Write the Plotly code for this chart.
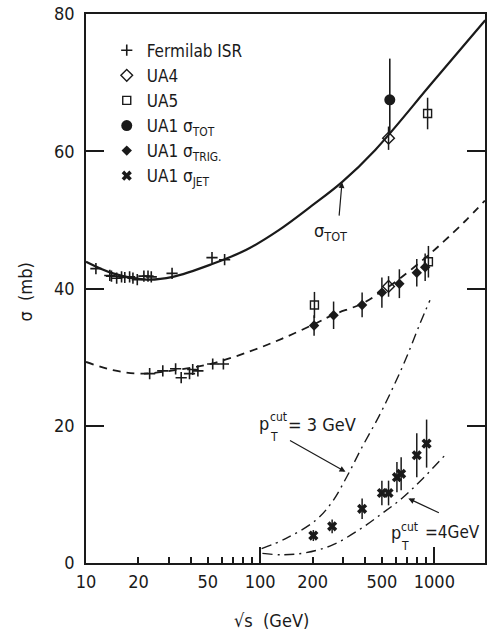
import plotly.graph_objects as go

# ---------------- data ----------------
# sigma_tot fit curve
tot_x = [10, 14.3, 22.2, 31.5, 53.4, 82.8, 128, 199, 295, 458, 966, 1960]
tot_y = [43.9, 42.2, 41.3, 41.7, 43.6, 45.6, 48.5, 52.1, 55.5, 60.2, 69.9, 79.1]

# inelastic / trigger curve (dashed)
inel_x = [10, 14.3, 20.4, 34.4, 53.4, 86.5, 134, 204, 264, 385, 500, 630, 900, 1150, 1500, 1950]
inel_y = [29.3, 28.1, 27.6, 28.2, 29.1, 30.8, 32.7, 34.8, 36.2, 37.8, 39.6, 41.4, 44.6, 47.0, 49.8, 52.8]

# jet cross-section predictions (dash-dot)
c3_x = [102, 140, 208, 259, 315, 385, 479, 570, 680, 828, 944]
c3_y = [2.1, 3.55, 6.2, 8.9, 12.6, 16.9, 21.3, 25.2, 29.5, 34.9, 38.3]
c4_x = [103, 134, 183, 259, 368, 500, 650, 843, 1150]
c4_y = [1.4, 1.2, 1.5, 2.6, 4.8, 7.2, 9.4, 12.1, 15.7]

# Fermilab / ISR points
isr_tot_x = [11.4, 13.7, 14.0, 15.0, 16.0, 16.7, 17.8, 18.6, 19.7, 21.5, 22.7, 23.7, 31.2, 52.9, 62.5]
isr_tot_y = [42.9, 41.9, 41.8, 41.5, 41.7, 41.6, 41.7, 41.5, 41.3, 41.8, 41.8, 41.7, 42.2, 44.5, 44.2]
isr_inel_x = [23.2, 27.6, 32.7, 35.2, 39.3, 41.0, 43.9, 53.4, 61.5]
isr_inel_y = [27.6, 28.0, 28.3, 27.0, 27.6, 28.2, 28.0, 29.0, 29.0]

# UA4
ua4_x = [546, 546]
ua4_y = [61.9, 40.3]
ua4_err = [1.7, 1.5]

# UA5
ua5_x = [205, 915, 925]
ua5_y = [37.6, 65.5, 43.9]
ua5_err = [1.9, 2.3, 2.3]

# UA1 sigma_tot
ua1tot_x = [555]
ua1tot_y = [67.5]
ua1tot_up = [6.0]
ua1tot_dn = [5.0]

# UA1 sigma_trig
trig_x = [204, 264, 385, 500, 630, 793, 886]
trig_y = [34.6, 36.1, 37.6, 39.4, 40.7, 42.3, 43.1]
trig_err = [1.5, 2.0, 1.8, 2.2, 2.1, 2.0, 2.0]

# UA1 sigma_jet
jet_x = [202, 259, 385, 500, 546, 610, 645, 793, 903]
jet_y = [4.0, 5.35, 7.9, 10.2, 10.2, 12.5, 13.0, 15.7, 17.4]
jet_err = [0.8, 1.0, 1.5, 1.8, 1.8, 2.2, 2.4, 3.2, 3.5]

x_tickvals = [10, 20, 50, 100, 200, 500, 1000]
x_ticktext = ["10", "20", "50", "100", "200", "500", "1000"]
x_minor = [30, 40, 60, 70, 80, 90, 300, 400, 600, 700, 800, 900]
y_tickvals = [0, 20, 40, 60, 80]

# ---------------- figure ----------------
INK = "#1a1a1a"
FONT = "DejaVu Sans Condensed, DejaVu Sans, sans-serif"

fig = go.Figure()

fig.add_trace(go.Scatter(x=tot_x, y=tot_y, mode="lines", line=dict(color=INK, width=2.2, shape="spline"),
                         showlegend=False, hoverinfo="skip"))
fig.add_trace(go.Scatter(x=inel_x, y=inel_y, mode="lines",
                         line=dict(color=INK, width=1.8, shape="spline", dash="8px,6px"),
                         showlegend=False, hoverinfo="skip"))
fig.add_trace(go.Scatter(x=c3_x, y=c3_y, mode="lines",
                         line=dict(color=INK, width=1.4, shape="spline", dash="10px,5px,2px,5px"),
                         showlegend=False, hoverinfo="skip"))
fig.add_trace(go.Scatter(x=c4_x, y=c4_y, mode="lines", xaxis="x2",
                         line=dict(color=INK, width=1.4, shape="spline", dash="10px,5px,2px,5px"),
                         showlegend=False, hoverinfo="skip"))

# legend-order data traces
fig.add_trace(go.Scatter(x=isr_tot_x + isr_inel_x, y=isr_tot_y + isr_inel_y, mode="markers",
                         name="Fermilab ISR",
                         marker=dict(symbol="cross-thin", size=8, line=dict(color=INK, width=1.6))))
fig.add_trace(go.Scatter(x=ua4_x, y=ua4_y, mode="markers", name="UA4",
                         marker=dict(symbol="diamond-open", size=9, color=INK, line=dict(width=1.4)),
                         error_y=dict(type="data", array=ua4_err, color=INK, thickness=1.5, width=0)))
fig.add_trace(go.Scatter(x=ua5_x, y=ua5_y, mode="markers", name="UA5",
                         marker=dict(symbol="square-open", size=8, color=INK, line=dict(width=1.4)),
                         error_y=dict(type="data", array=ua5_err, color=INK, thickness=1.5, width=0)))
fig.add_trace(go.Scatter(x=ua1tot_x, y=ua1tot_y, mode="markers", name="UA1 σ<sub>TOT</sub>",
                         marker=dict(symbol="circle", size=11, color=INK),
                         error_y=dict(type="data", symmetric=False, array=ua1tot_up, arrayminus=ua1tot_dn,
                                      color=INK, thickness=1.6, width=0)))
fig.add_trace(go.Scatter(x=trig_x, y=trig_y, mode="markers", name="UA1 σ<sub>TRIG.</sub>",
                         marker=dict(symbol="diamond", size=8, color=INK),
                         error_y=dict(type="data", array=trig_err, color=INK, thickness=1.5, width=0)))
fig.add_trace(go.Scatter(x=jet_x, y=jet_y, mode="markers", name="UA1 σ<sub>JET</sub>",
                         marker=dict(symbol="x", size=9, color=INK),
                         error_y=dict(type="data", array=jet_err, color=INK, thickness=1.5, width=0)))

ann_font = dict(family=FONT, size=18, color=INK)
small_font = dict(family=FONT, size=12, color=INK)
annotations = [
    # sigma_tot label + arrow
    dict(x=2.406, y=48.2, xref="x", yref="y", text="σ<sub>TOT</sub>", showarrow=False, font=ann_font),
    dict(x=2.470, y=55.5, xref="x", yref="y", text="", showarrow=True, ax=-3, ay=35,
         arrowhead=2, arrowsize=1, arrowwidth=1.2, arrowcolor=INK),
    # 3 GeV label
    dict(x=1.983, y=20.4, xref="x", yref="y", text="p", showarrow=False, font=ann_font,
         xanchor="left", yanchor="middle"),
    dict(x=2.047, y=21.3, xref="x", yref="y", text="cut", showarrow=False, font=small_font,
         xanchor="left", yanchor="middle"),
    dict(x=2.047, y=18.3, xref="x", yref="y", text="T", showarrow=False, font=small_font,
         xanchor="left", yanchor="middle"),
    dict(x=2.147, y=20.2, xref="x", yref="y", text="= 3 GeV", showarrow=False, font=ann_font,
         xanchor="left", yanchor="middle"),
    dict(x=2.490, y=13.3, xref="x", yref="y", text="", showarrow=True, ax=-57, ay=-32,
         arrowhead=2, arrowsize=1, arrowwidth=1.2, arrowcolor=INK),
    # 4 GeV label
    dict(x=1 + (390 - 86) / 175, y=4.4, xref="x", yref="y", text="p", showarrow=False, font=ann_font,
         xanchor="left", yanchor="middle"),
    dict(x=1 + (401 - 86) / 175, y=5.3, xref="x", yref="y", text="cut", showarrow=False, font=small_font,
         xanchor="left", yanchor="middle"),
    dict(x=1 + (401 - 86) / 175, y=2.5, xref="x", yref="y", text="T", showarrow=False, font=small_font,
         xanchor="left", yanchor="middle"),
    dict(x=1 + (425 - 86) / 175, y=4.5, xref="x", yref="y", text="=4GeV", showarrow=False,
         font=dict(family=FONT, size=17, color=INK), xanchor="left", yanchor="middle"),
    dict(x=2.851, y=9.4, xref="x", yref="y", text="", showarrow=True, ax=32, ay=15,
         arrowhead=2, arrowsize=1, arrowwidth=1.2, arrowcolor=INK),
    # axis titles
    dict(x=(272 - 86) / 401, y=-0.105, xref="paper", yref="paper", text="√s  (GeV)", showarrow=False,
         font=ann_font, yanchor="middle"),
    dict(x=-0.152, y=(562.7 - 292) / 548.7, xref="paper", yref="paper", text="σ  (mb)", showarrow=False,
         font=ann_font, textangle=-90, xanchor="center", yanchor="middle"),
]

fig.update_layout(
    width=488, height=635,
    margin=dict(l=86, r=1, t=14, b=72),
    paper_bgcolor="white", plot_bgcolor="white",
    font=dict(family=FONT, size=18, color=INK),
    showlegend=True,
    legend=dict(x=0.052, y=0.966, xanchor="left", yanchor="top", bgcolor="rgba(0,0,0,0)",
                font=dict(family=FONT, size=17, color=INK), tracegroupgap=0, itemwidth=30),
    annotations=annotations,
    xaxis=dict(type="log", range=[1, 3.291], tickmode="array", tickvals=x_tickvals, ticktext=x_ticktext,
               ticks="inside", ticklen=6, tickwidth=1.5, tickcolor=INK,
               showline=True, linecolor=INK, linewidth=1.6, mirror=True,
               showgrid=False, zeroline=False, ticklabelstandoff=2,
               tickfont=dict(family=FONT, size=18, color=INK),
               minor=dict(tickmode="array", tickvals=x_minor, ticks="inside", ticklen=6,
                          tickwidth=1.5, tickcolor=INK, showgrid=False)),
    xaxis2=dict(type="log", range=[1, 3.291], overlaying="x", anchor="y", side="bottom",
                tickmode="array", tickvals=[100, 1000], ticks="inside", ticklen=16, tickwidth=1.5,
                tickcolor=INK, showticklabels=False, showline=False, showgrid=False, zeroline=False),
    yaxis=dict(range=[0, 80], tickmode="array", tickvals=y_tickvals, ticks="inside", ticklen=18,
               tickwidth=1.5, tickcolor=INK, showline=True, linecolor=INK, linewidth=1.6, mirror="ticks",
               showgrid=False, zeroline=False, ticklabelstandoff=6,
               tickfont=dict(family=FONT, size=18, color=INK)),
)

fig.write_html("out.html", config={"displayModeBar": False},
               post_script="document.body.style.margin='0';document.body.style.padding='0';"
                           "document.body.style.overflow='hidden';")
